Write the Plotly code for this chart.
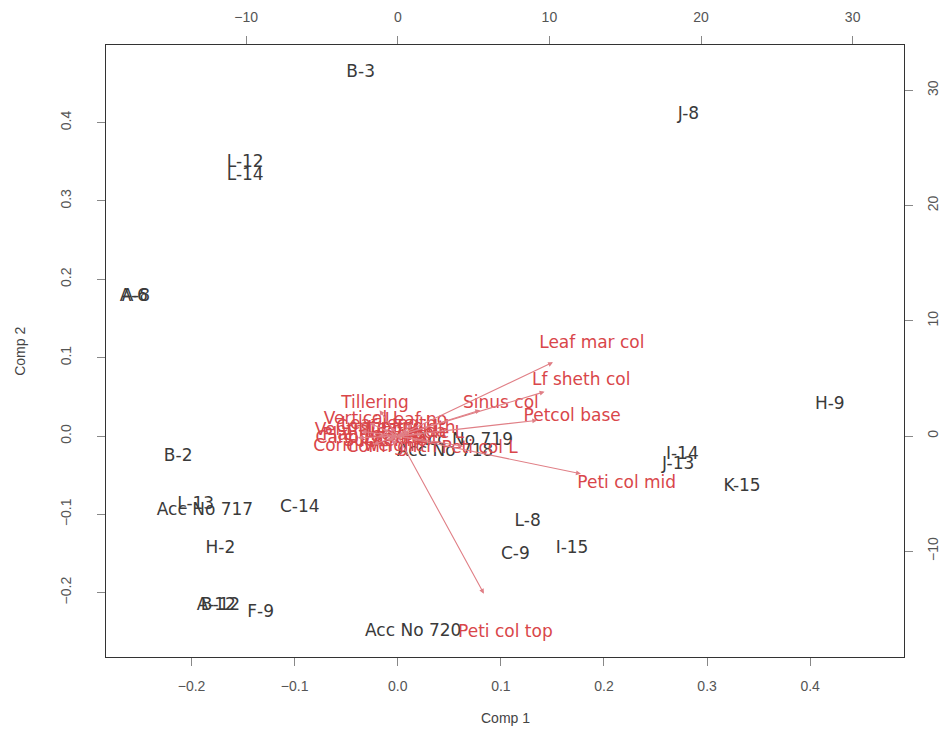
import plotly.graph_objects as go

# ---- observation scores (Comp 1, Comp 2) ----
obs_labels = ["B-3", "J-8", "L-12", "L-14", "A-6", "A-8", "H-9", "I-14", "J-13",
              "K-15", "L-8", "C-9", "I-15", "B-2", "Acc No 717", "L-13", "C-14",
              "H-2", "A-12", "B-12", "F-9", "Acc No 720", "Acc No 719", "Acc No 718"]
obs_comp1 = [-0.036, 0.282, -0.148, -0.148, -0.256, -0.254, 0.419, 0.276, 0.272,
             0.334, 0.126, 0.114, 0.169, -0.213, -0.187, -0.196, -0.095,
             -0.172, -0.176, -0.172, -0.133, 0.015, 0.065, 0.046]
obs_comp2 = [0.464, 0.410, 0.349, 0.332, 0.178, 0.178, 0.040, -0.024, -0.037,
             -0.065, -0.110, -0.152, -0.144, -0.026, -0.095, -0.088, -0.091,
             -0.144, -0.216, -0.216, -0.226, -0.250, -0.006, -0.020]

# ---- variable loadings (secondary scale) ----
var_labels = ["Leaf mar col", "Lf sheth col", "Sinus col", "Petcol base", "Peti col mid",
              "Peti col top", "Tillering", "Peti col L",
              "Vertical L", "Ventral L", "Leaf length", "Leaf width", "Plant height",
              "Sucker no", "Corm weight", "Leaf no", "Petiole L", "Canopy",
              "Lamina L", "Cormel no", "Corm girth", "Leaf area"]
var_comp1 = [12.8, 12.1, 6.8, 11.5, 15.1, 7.1, -1.5, 5.4,
             -2.3, -3.0, -0.6, 0.9, -1.6, -0.8, -2.0, 1.2, 2.0, -3.3, 0.3, -1.2,
             -0.4, 0.6]
var_comp2 = [8.0, 4.8, 2.8, 1.7, -4.1, -17.1, 2.8, -1.1,
             1.4, 0.5, 1.0, 0.6, 0.0, -0.5, -0.9, 1.3, 0.2, -0.2, -0.2, 0.7,
             -1.0, 0.3]

x_ticks = [-0.2, -0.1, 0.0, 0.1, 0.2, 0.3, 0.4]
y_ticks = [-0.2, -0.1, 0.0, 0.1, 0.2, 0.3, 0.4]
sec_ticks = [-10, 0, 10, 20, 30]

xlim = [-0.283, 0.491]
ylim = [-0.282, 0.499]
ratio = 68.0

obs_color = "#3a3a3a"
var_color = "#d9464a"
arrow_color = "#e07f86"
tick_color = "#555555"
font_family = "DejaVu Sans"

fig = go.Figure()

fig.add_trace(go.Scatter(
    x=obs_comp1, y=obs_comp2, text=obs_labels, mode="text",
    textfont=dict(family=font_family, size=17, color=obs_color),
    xaxis="x", yaxis="y", hoverinfo="skip", showlegend=False))

fig.add_trace(go.Scatter(
    x=var_comp1, y=var_comp2, text=var_labels, mode="text",
    textfont=dict(family=font_family, size=17, color=var_color),
    xaxis="x2", yaxis="y2", hoverinfo="skip", showlegend=False))

annotations = []
for vx, vy in zip(var_comp1, var_comp2):
    annotations.append(dict(
        x=0.8 * vx, y=0.8 * vy, ax=0, ay=0,
        xref="x2", yref="y2", axref="x2", ayref="y2",
        text="", showarrow=True, arrowhead=2, arrowsize=0.9,
        arrowwidth=1.1, arrowcolor=arrow_color, standoff=0, startstandoff=0))

annotations.append(dict(text="Comp 1", xref="paper", yref="paper", x=0.5, y=-0.0997,
                        xanchor="center", yanchor="middle",
                        showarrow=False, font=dict(family="Liberation Sans", size=14, color="#444")))
annotations.append(dict(text="Comp 2", xref="paper", yref="paper", x=-0.108, y=0.5,
                        xanchor="center", yanchor="middle",
                        textangle=-90, showarrow=False,
                        font=dict(family="Liberation Sans", size=14, color="#444")))

common = dict(showgrid=False, zeroline=False, ticks="outside", ticklen=8,
              tickcolor="#888", tickwidth=1, automargin=False,
              tickfont=dict(family="Liberation Sans", size=14, color=tick_color))

# the page adds an 8px body margin, so the figure is sized to fit inside the window
fig.update_layout(
    width=942, height=727,
    margin=dict(l=98, r=46, t=37, b=78),
    paper_bgcolor="white", plot_bgcolor="white",
    showlegend=False,
    annotations=annotations,
    xaxis=dict(range=xlim, tickvals=x_ticks, tickformat=".1f",
               showline=True, linecolor="#333", linewidth=1, mirror=True,
               anchor="y", ticklabelstandoff=8, **common),
    yaxis=dict(range=ylim, tickvals=y_ticks, tickformat=".1f", tickangle=-90,
               showline=True, linecolor="#333", linewidth=1, mirror=True,
               anchor="x", ticklabelstandoff=20, **common),
    xaxis2=dict(range=[xlim[0] * ratio, xlim[1] * ratio], tickvals=sec_ticks,
                overlaying="x", side="top", anchor="y", showline=False,
                ticklabelstandoff=8, **common),
    yaxis2=dict(range=[ylim[0] * ratio, ylim[1] * ratio], tickvals=sec_ticks,
                overlaying="y", side="right", anchor="x", showline=False,
                tickangle=-90, ticklabelstandoff=8, **common),
)

fig.write_html("out.html")
